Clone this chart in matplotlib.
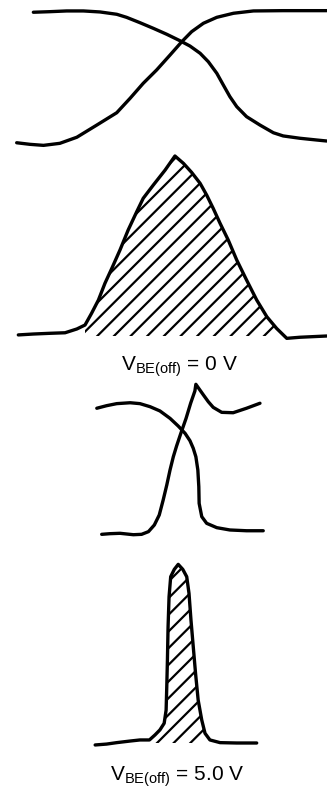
import matplotlib
matplotlib.use("Agg")
import matplotlib.pyplot as plt
import numpy as np

plt.rcParams['font.family'] = ['Liberation Sans', 'DejaVu Sans']
plt.rcParams['mathtext.fontset'] = 'custom'
plt.rcParams['mathtext.rm'] = 'Liberation Sans'
plt.rcParams['hatch.linewidth'] = 1.6

# ---- data (time in arbitrary units 0..100, amplitude normalised) ----
# top pair: V_BE(off) = 0 V
t_fall_0 = [10.2, 15.3, 20.4, 25.5, 30.6, 35.7, 38.7, 42.8, 46.9, 51.0, 55.0, 58.1, 61.2,
            63.7, 66.3, 68.3, 70.3, 72.4, 75.4, 79.5, 83.6, 86.6, 91.7, 96.8, 99.9]
a_fall_0 = [0.950, 0.954, 0.959, 0.959, 0.952, 0.936, 0.915, 0.878, 0.839, 0.798, 0.754, 0.717, 0.667,
            0.609, 0.529, 0.448, 0.368, 0.299, 0.230, 0.172, 0.119, 0.097, 0.081, 0.069, 0.062]
t_rise_0 = [5.1, 9.2, 13.3, 18.3, 23.5, 29.6, 35.7, 39.8, 43.8, 47.9, 52.0, 55.6, 58.6,
            62.2, 66.3, 71.4, 77.5, 86.6, 99.9]
a_rise_0 = [0.050, 0.039, 0.032, 0.046, 0.088, 0.172, 0.257, 0.357, 0.460, 0.552, 0.655, 0.747, 0.816,
            0.874, 0.915, 0.943, 0.959, 0.961, 0.961]

# dissipation pulse, V_BE(off) = 0 V
t_pulse_0 = [5.6, 10.2, 15.3, 19.9, 23.5, 26.0, 28.0, 30.1, 32.1, 34.2, 36.7, 39.2, 41.8, 43.8, 46.9, 50.5,
             53.5, 56.1, 58.6, 61.2, 63.2, 65.2, 67.3, 69.8, 72.4, 75.4, 78.5, 81.6, 84.6, 87.7, 91.7, 99.9]
a_pulse_0 = [0.006, 0.011, 0.015, 0.018, 0.039, 0.061, 0.126, 0.200, 0.293, 0.376, 0.478, 0.589, 0.690, 0.765,
             0.839, 0.922, 1.000, 0.959, 0.909, 0.848, 0.783, 0.709, 0.626, 0.533, 0.422, 0.311, 0.200, 0.107,
             0.042, -0.013, -0.007, 0.000]
hatch_span_0 = (26.0, 86.6)

# bottom pair: V_BE(off) = 5.0 V
t_fall_5 = [29.6, 32.6, 35.7, 39.8, 42.8, 45.9, 48.9, 52.0, 54.5, 56.6, 58.1, 59.1, 59.9, 60.5, 60.8,
            60.9, 61.7, 63.2, 66.3, 70.3, 75.4, 80.5]
a_fall_5 = [0.959, 0.979, 0.995, 1.002, 0.995, 0.971, 0.938, 0.880, 0.820, 0.763, 0.705, 0.646, 0.580,
            0.477, 0.346, 0.216, 0.112, 0.060, 0.026, 0.008, 0.002, 0.002]
t_rise_5 = [31.1, 33.6, 36.7, 40.8, 43.3, 45.4, 47.2, 48.7, 49.9, 51.0, 52.0, 53.0, 54.0, 55.3, 56.9,
            58.3, 59.6, 59.9, 62.2, 63.7, 65.2, 67.8, 71.3, 75.4, 79.5]
a_rise_5 = [-0.026, -0.021, -0.018, -0.029, -0.026, -0.005, 0.047, 0.125, 0.242, 0.359, 0.477, 0.580,
            0.664, 0.763, 0.880, 0.998, 1.094, 1.146, 1.063, 1.010, 0.966, 0.927, 0.924, 0.959, 0.998]

# dissipation pulse, V_BE(off) = 5.0 V
t_pulse_5 = [29.1, 32.6, 35.7, 39.8, 42.8, 45.7, 47.4, 48.9, 50.2, 50.8, 51.0, 51.2, 51.4, 51.7, 52.2,
             53.3, 54.5, 55.9, 57.1, 57.8, 58.4, 59.1, 59.8, 60.6, 61.7, 62.7, 64.2, 67.3, 72.4, 78.5]
a_pulse_5 = [-0.011, -0.006, 0.002, 0.011, 0.017, 0.017, 0.045, 0.073, 0.110, 0.184, 0.315, 0.464, 0.650,
             0.817, 0.929, 0.970, 0.998, 0.970, 0.929, 0.836, 0.687, 0.538, 0.389, 0.240, 0.128, 0.054,
             0.017, 0.002, 0.000, 0.000]
hatch_span_5 = (45.7, 63.3)

labels = [r'$\mathregular{V_{BE(off)}}$ = 0 V', r'$\mathregular{V_{BE(off)}}$ = 5.0 V']

W, H = 327, 789
fig = plt.figure(figsize=(W / 100, H / 100), dpi=100)


def panel(top_px, base_px):
    ax = fig.add_axes([0, 1 - base_px / H, 1, (base_px - top_px) / H])
    ax.set_xlim(0, 100)
    ax.set_ylim(0, 1)
    ax.axis('off')
    return ax


line_kw = dict(color='black', lw=2.4, solid_capstyle='round', solid_joinstyle='round', clip_on=False)


def draw_pulse(ax, t, a, span):
    t = np.array(t)
    a = np.array(a)
    ax.plot(t, a, **line_kw)
    mask = (t >= span[0]) & (t <= span[1])
    ax.fill_between(t, 0, a, where=mask, facecolor='none', edgecolor='black',
                    hatch='//', linewidth=0, clip_on=False)


ax1 = panel(5, 150)
ax1.plot(t_fall_0, a_fall_0, **line_kw)
ax1.plot(t_rise_0, a_rise_0, **line_kw)

ax2 = panel(156, 336)
draw_pulse(ax2, t_pulse_0, a_pulse_0, hatch_span_0)

ax3 = panel(403, 531)
ax3.plot(t_fall_5, a_fall_5, **line_kw)
ax3.plot(t_rise_5, a_rise_5, **line_kw)

ax4 = panel(564, 743)
draw_pulse(ax4, t_pulse_5, a_pulse_5, hatch_span_5)

fig.text(180 / W, 1 - 371 / H, labels[0], ha='center', va='baseline', fontsize=15)
fig.text(177 / W, 1 - 781 / H, labels[1], ha='center', va='baseline', fontsize=15)

fig.savefig('out.png', dpi=100, facecolor='white')
